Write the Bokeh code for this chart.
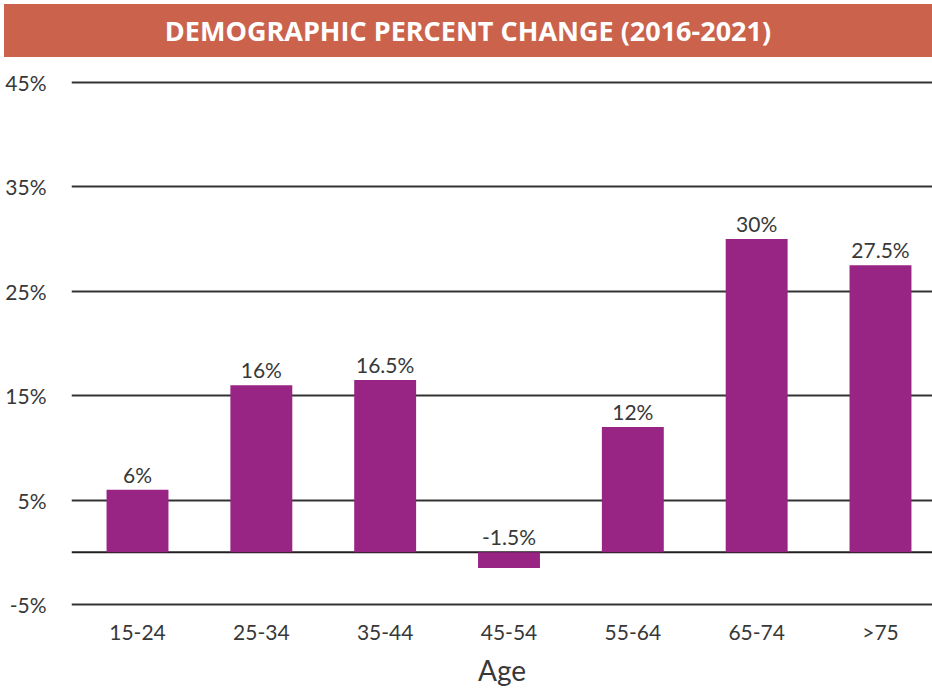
from bokeh.plotting import figure
from bokeh.models import (Div, Range1d, FixedTicker, PrintfTickFormatter, Span,
                          ColumnDataSource)
from bokeh.layouts import column
from bokeh.core.properties import value
from bokeh.embed import file_html
from bokeh.resources import INLINE

# ---- data ----
title_text = "DEMOGRAPHIC PERCENT CHANGE (2016-2021)"
categories = ["15-24", "25-34", "35-44", "45-54", "55-64", "65-74", ">75"]
values = [6, 16, 16.5, -1.5, 12, 30, 27.5]
value_labels = ["6%", "16%", "16.5%", "-1.5%", "12%", "30%", "27.5%"]
y_ticks = [-5, 5, 15, 25, 35, 45]
x_title = "Age"

BAR = "#982484"
BANNER = "#cb624b"
TXT = "#383838"
FONT = "Lato"

xs = list(range(len(categories)))
label_y = [max(v, 0) for v in values]
src = ColumnDataSource(dict(x=xs, top=values, ly=label_y, lab=value_labels))

banner = Div(
    text=(f'<div style="width:928px;height:53px;background:{BANNER};color:#ffffff;'
          f'font-family:\'Open Sans\';font-weight:bold;font-size:27px;'
          f'line-height:53px;text-align:center;white-space:nowrap;">{title_text}</div>'),
    width=928, height=53, margin=(4, 0, 0, 4))

p = figure(width=932, height=632, output_backend="svg", toolbar_location=None,
           x_range=Range1d(-0.533, 6.42), y_range=Range1d(-5.478, 45.478),
           min_border_left=71, min_border_right=0, min_border_top=20,
           min_border_bottom=79, outline_line_color=None, margin=(0, 0, 0, 0))

p.vbar(x="x", top="top", bottom=0, width=0.5, source=src,
       fill_color=BAR, line_color=None)

p.add_layout(Span(location=0, dimension="width", line_color="#231f20",
                  line_width=2, level="underlay"))

p.text(x="x", y="ly", text="lab", source=src, text_align="center",
       text_baseline="bottom", y_offset=-3, text_font=value(FONT),
       text_font_size="21px", text_color=TXT)

# y axis
p.yaxis.ticker = FixedTicker(ticks=y_ticks)
p.yaxis.formatter = PrintfTickFormatter(format="%d%%")
p.yaxis.axis_line_color = None
p.yaxis.major_tick_line_color = None
p.yaxis.minor_tick_line_color = None
p.yaxis.major_label_standoff = 19
p.yaxis.major_label_text_font = FONT
p.yaxis.major_label_text_font_size = "21px"
p.yaxis.major_label_text_color = TXT

# x axis
p.xaxis.ticker = FixedTicker(ticks=xs)
p.xaxis.major_label_overrides = {i: c for i, c in enumerate(categories)}
p.xaxis.axis_line_color = None
p.xaxis.major_tick_line_color = None
p.xaxis.minor_tick_line_color = None
p.xaxis.major_label_standoff = 3
p.xaxis.major_label_text_font = FONT
p.xaxis.major_label_text_font_size = "21px"
p.xaxis.major_label_text_color = TXT
p.xaxis.axis_label = x_title
p.xaxis.axis_label_standoff = 6
p.xaxis.axis_label_text_font = FONT
p.xaxis.axis_label_text_font_style = "normal"
p.xaxis.axis_label_text_font_size = "28px"
p.xaxis.axis_label_text_color = TXT

p.xgrid.grid_line_color = None
p.ygrid.ticker = FixedTicker(ticks=y_ticks)
p.ygrid.grid_line_color = "#333333"
p.ygrid.grid_line_width = 2

layout = column(banner, p, spacing=0)
open("out.html", "w").write(file_html(layout, INLINE))
